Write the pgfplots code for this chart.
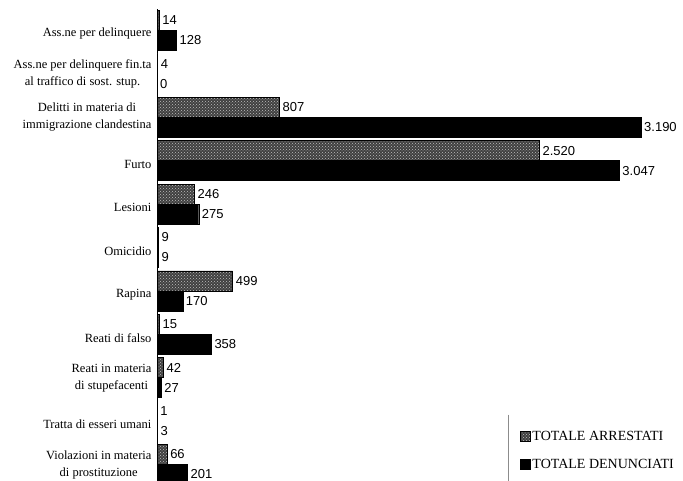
\documentclass[border=0pt]{standalone}
\usepackage{pgfplots}
\pgfplotsset{compat=1.18}
\usepackage{pgfplotstable}
\usepackage{fontspec}
\setmainfont{Liberation Serif}
\newfontfamily\valfont{Liberation Sans}
\usetikzlibrary{patterns}

% reati: posizione (dall'alto in basso 10..0), arrestati, denunciati
\pgfplotstableread{
y  a    d
10 14   128
9  4    0
8  807  3190
7  2520 3047
6  246  275
5  9    9
4  499  170
3  15   358
2  42   27
1  1    3
0  66   201
}\reati

% etichette su una riga, leggermente abbassate
\newcommand{\low}[1]{\raisebox{-3.5pt}[\height][\depth]{#1}}

\begin{document}
\begin{tikzpicture}
\useasboundingbox (0,0) rectangle (683pt,481pt);
\begin{axis}[
  at={(157pt,-5.2pt)}, anchor=south west,
  scale only axis, width=526pt, height=477.4pt,
  xbar, bar width=0.46,
  xmin=0, xmax=3467,
  ymin=-0.5, ymax=10.5,
  hide x axis,
  axis y line*=left,
  y axis line style={black, line width=0.8pt, -},
  ytick={0,...,10},
  major tick length=0pt,
  yticklabels={
    {Violazioni in materia\\di prostituzione},
    {\low{Tratta di esseri umani}},
    {Reati in materia\\di stupefacenti},
    {\low{Reati di falso}},
    {\low{Rapina}},
    {\low{Omicidio}},
    {\low{Lesioni}},
    {\low{Furto}},
    {Delitti in materia di\\immigrazione clandestina},
    {Ass.ne per delinquere fin.ta\\al traffico di sost. stup.},
    {\low{Ass.ne per delinquere}}},
  yticklabel style={align=center, font=\fontsize{12.5}{17}\selectfont, xshift=-2pt},
  /pgf/number format/.cd, 1000 sep={.}, assume math mode=true, /pgfplots/.cd,
  nodes near coords,
  nodes near coords style={font=\valfont\fontsize{13}{15}\selectfont, anchor=west, text=black, inner sep=3pt},
  legend image code/.code={\draw[#1] (0pt,-5pt) rectangle (10pt,5pt);},
  legend style={at={(0.684,0.124)}, anchor=north west, draw=none, fill=none,
    font=\fontsize{14}{16}\selectfont, row sep=13pt,
    /tikz/every even column/.append style={column sep=2pt}},
  legend cell align=left,
]
\addplot[fill=black!75, draw=black, line width=0.5pt,
  postaction={pattern=crosshatch dots, pattern color=white!75!black}, bar shift=0.23]
  table[x=a, y=y] {\reati};
\addlegendentry{TOTALE ARRESTATI}
\addplot[fill=black, draw=black, line width=0.4pt, bar shift=-0.23]
  table[x=d, y=y] {\reati};
\addlegendentry{TOTALE DENUNCIATI}
\draw[black!45, line width=0.4pt] (axis description cs:0.667,0.15) -- (axis description cs:0.667,0);
\end{axis}
\end{tikzpicture}
\end{document}
